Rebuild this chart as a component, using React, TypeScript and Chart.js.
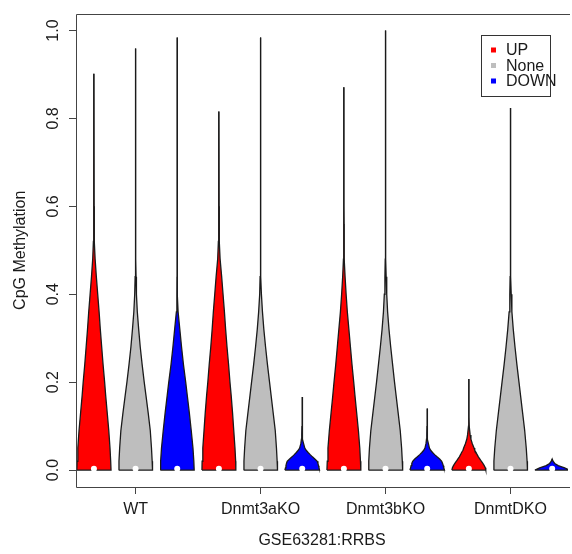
import { useEffect, useRef } from 'react';
import { Chart, registerables } from 'chart.js';

Chart.register(...registerables);

// ---- data ----
const groups = ['WT', 'Dnmt3aKO', 'Dnmt3bKO', 'DnmtDKO'];
const groupTicks = [2, 5, 8, 11];
const seriesNames = ['UP', 'None', 'DOWN'];
const seriesColors = ['#FF0000', '#BEBEBE', '#0000FF'];
const yTicks = [0, 0.2, 0.4, 0.6, 0.8, 1.0];

// methylation levels at which the violin widths were read
const tallLevels = [0, 0.02, 0.05, 0.09, 0.13, 0.17, 0.2, 0.24, 0.28, 0.32, 0.36, 0.4, 0.44, 0.48, 0.52, 0.56, 0.6];
const shortLevels = [0, 0.005, 0.01, 0.015, 0.02, 0.025, 0.03, 0.035, 0.04, 0.045, 0.05, 0.06, 0.07, 0.08, 0.1, 0.12];

// relative density (half-width, 1 = widest) per violin
const wtUp = [0.99, 0.97, 0.93, 0.86, 0.77, 0.68, 0.62, 0.53, 0.45, 0.37, 0.3, 0.22, 0.14, 0.07, 0.03, 0.015, 0.008];
const wtNone = [0.98, 0.96, 0.92, 0.85, 0.73, 0.6, 0.5, 0.38, 0.27, 0.18, 0.1, 0.05, 0.025, 0.012, 0.006, 0.004, 0.003];
const wtDown = [0.98, 0.96, 0.91, 0.81, 0.7, 0.58, 0.49, 0.36, 0.25, 0.15, 0.05, 0.015, 0.008, 0.005, 0.004, 0.003, 0.003];
const aUp = [0.98, 0.97, 0.93, 0.86, 0.79, 0.71, 0.64, 0.56, 0.47, 0.39, 0.32, 0.24, 0.16, 0.07, 0.03, 0.015, 0.008];
const aNone = [0.98, 0.96, 0.92, 0.85, 0.73, 0.61, 0.52, 0.4, 0.29, 0.19, 0.11, 0.05, 0.025, 0.015, 0.01, 0.008, 0.006];
const aDown = [1.0, 0.97, 0.94, 0.91, 0.87, 0.73, 0.59, 0.46, 0.34, 0.23, 0.15, 0.08, 0.045, 0.025, 0.012, 0.006];
const bUp = [0.98, 0.96, 0.92, 0.84, 0.74, 0.64, 0.57, 0.47, 0.38, 0.29, 0.2, 0.13, 0.07, 0.025, 0.012, 0.008, 0.005];
const bNone = [0.99, 0.97, 0.93, 0.85, 0.73, 0.61, 0.52, 0.41, 0.3, 0.2, 0.12, 0.07, 0.035, 0.015, 0.01, 0.007, 0.005];
const bDown = [1.0, 0.96, 0.93, 0.89, 0.84, 0.72, 0.57, 0.43, 0.31, 0.2, 0.13, 0.07, 0.04, 0.02, 0.01, 0.005];
const dkoUp = [0.98, 0.95, 0.89, 0.81, 0.72, 0.64, 0.55, 0.48, 0.42, 0.34, 0.3, 0.2, 0.12, 0.075, 0.02, 0.008];
const dkoNone = [0.98, 0.96, 0.91, 0.82, 0.7, 0.58, 0.49, 0.37, 0.26, 0.16, 0.08, 0.04, 0.02, 0.01, 0.007, 0.005, 0.004];
const dkoDown = [1.0, 0.72, 0.35, 0.15, 0.05];

const violinWidths = [wtUp, wtNone, wtDown, aUp, aNone, aDown, bUp, bNone, bDown, dkoUp, dkoNone, dkoDown];
const violinShort = [false, false, false, false, false, true, false, false, true, true, false, true];
const violinMax = [0.902, 0.959, 0.984, 0.816, 0.984, 0.166, 0.871, 1.0, 0.14, 0.207, 0.824, 0.025];
const violinMedian = [0.003, 0.003, 0.003, 0.003, 0.003, 0.003, 0.003, 0.003, 0.003, 0.003, 0.003, 0.003];

const HALF = 0.415; // max half width in x units
const FONT = '"Liberation Sans", Arial, Helvetica, sans-serif';
const TEXT = '#1a1a1a';

function violinPoints(i: number) {
  const c = i + 1;
  const levels = violinShort[i] ? shortLevels : tallLevels;
  const w = violinWidths[i];
  const m = violinMax[i];
  const left: { x: number; y: number }[] = [];
  const right: { x: number; y: number }[] = [];
  for (let k = 0; k < w.length && k < levels.length; k++) {
    if (levels[k] >= m) break;
    left.push({ x: c - w[k] * HALF, y: levels[k] });
    right.push({ x: c + w[k] * HALF, y: levels[k] });
  }
  return [...left, { x: c, y: m }, ...right.reverse(), left[0]];
}

const framePlugin = {
  id: 'rFrame',
  afterDraw(chart: any) {
    const { ctx, chartArea } = chart;
    const l = Math.round(chartArea.left) + 0.5;
    const t = Math.round(chartArea.top) + 0.5;
    const b = Math.round(chartArea.bottom) + 0.5;
    const r = chartArea.right + 2;
    ctx.save();
    ctx.strokeStyle = '#444';
    ctx.lineWidth = 1;
    ctx.beginPath();
    ctx.moveTo(r, t);
    ctx.lineTo(l, t);
    ctx.lineTo(l, b);
    ctx.lineTo(r, b);
    ctx.stroke();
    ctx.restore();
  },
};

const legendPlugin = {
  id: 'rLegend',
  afterDraw(chart: any) {
    const ctx = chart.ctx;
    ctx.save();
    ctx.strokeStyle = '#333';
    ctx.lineWidth = 1;
    ctx.strokeRect(481.5, 35.5, 69, 61);
    ctx.font = '16px ' + FONT;
    ctx.textBaseline = 'middle';
    seriesNames.forEach((name, k) => {
      const y = 50 + k * 15.5;
      ctx.fillStyle = seriesColors[k];
      ctx.fillRect(491, y - 2.5, 5, 5);
      ctx.fillStyle = TEXT;
      ctx.fillText(name, 506, y + 1);
    });
    ctx.restore();
  },
};

export default function App() {
  const ref = useRef<HTMLCanvasElement | null>(null);
  useEffect(() => {
    document.body.style.margin = '0';
    if (!ref.current) return;
    const datasets: any[] = [];
    violinMax.forEach((m, i) => {
      datasets.push({
        label: 'range' + i,
        data: [{ x: i + 1, y: 0 }, { x: i + 1, y: m }],
        borderColor: '#222',
        borderWidth: 1.2,
        pointRadius: 0,
        fill: false,
        order: 3,
      });
    });
    violinWidths.forEach((_, i) => {
      datasets.push({
        label: groups[Math.floor(i / 3)] + ' ' + seriesNames[i % 3],
        data: violinPoints(i),
        borderColor: '#1a1a1a',
        borderWidth: 1.3,
        backgroundColor: seriesColors[i % 3],
        fill: 'shape',
        pointRadius: 0,
        tension: 0,
        order: 2,
      });
    });
    datasets.push({
      label: 'median',
      data: violinMedian.map((v, i) => ({ x: i + 1, y: v })),
      showLine: false,
      pointRadius: 3,
      pointBackgroundColor: '#ffffff',
      pointBorderWidth: 0,
      pointBorderColor: '#ffffff',
      order: 1,
    });

    const chart = new Chart(ref.current, {
      type: 'line',
      data: { datasets },
      plugins: [framePlugin, legendPlugin],
      options: {
        animation: false,
        responsive: false,
        events: [],
        layout: { padding: { top: 12, left: 0, right: 0, bottom: 0 } },
        plugins: { legend: { display: false }, tooltip: { enabled: false } },
        scales: {
          x: {
            type: 'linear',
            min: 0.57,
            max: 12.38,
            afterBuildTicks: (s: any) => {
              s.ticks = groupTicks.map((v) => ({ value: v }));
            },
            afterFit: (s: any) => {
              s.height = 67;
            },
            ticks: {
              autoSkip: false,
              maxRotation: 0,
              minRotation: 0,
              padding: 6,
              color: TEXT,
              font: { family: FONT, size: 16 },
              callback: (v: any) => {
                const idx = groupTicks.indexOf(Number(v));
                return idx >= 0 ? groups[idx] : '';
              },
            },
            grid: { drawOnChartArea: false, drawTicks: true, tickLength: 7, color: '#444' },
            border: { display: false },
            title: {
              display: true,
              text: 'GSE63281:RRBS',
              color: TEXT,
              font: { family: FONT, size: 16 },
              padding: { top: 0, bottom: 4 },
            },
          },
          y: {
            type: 'linear',
            min: -0.0386,
            max: 1.0386,
            afterBuildTicks: (s: any) => {
              s.ticks = yTicks.map((v) => ({ value: v }));
            },
            afterFit: (s: any) => {
              s.width = 76;
            },
            ticks: {
              minRotation: 90,
              maxRotation: 90,
              crossAlign: 'center',
              padding: 4,
              color: TEXT,
              font: { family: FONT, size: 16 },
              callback: (v: any) => Number(v).toFixed(1),
            },
            grid: { drawOnChartArea: false, drawTicks: true, tickLength: 7, color: '#444' },
            border: { display: false },
            title: {
              display: true,
              text: 'CpG Methylation',
              color: TEXT,
              font: { family: FONT, size: 16 },
              padding: { top: 11, bottom: 0 },
            },
          },
        },
      },
    } as any);
    return () => chart.destroy();
  }, []);
  return <canvas ref={ref} width={572} height={554} style={{ display: 'block' }} />;
}
